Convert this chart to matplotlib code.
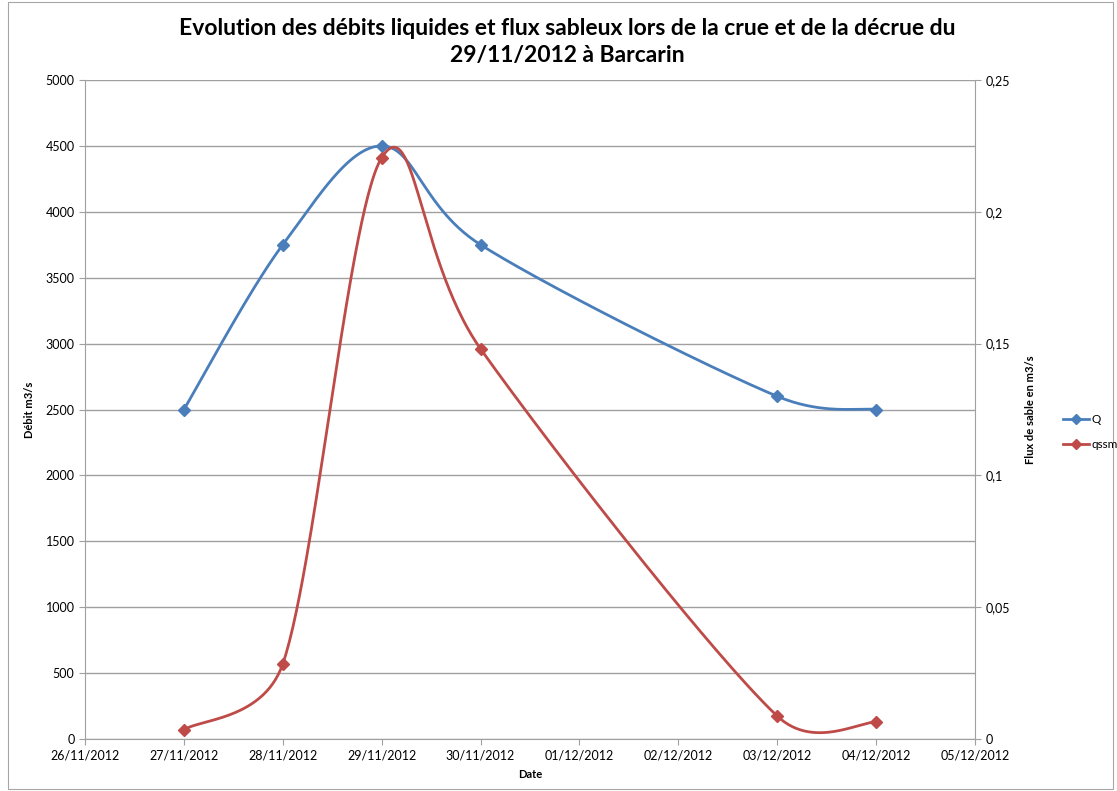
import datetime
import numpy as np
import matplotlib
matplotlib.use('Agg')
import matplotlib.pyplot as plt
import matplotlib.dates as mdates
from matplotlib.ticker import FuncFormatter, MultipleLocator

plt.rcParams['font.family'] = ['Lato', 'DejaVu Sans']

# données
dates = ['27/11/2012', '28/11/2012', '29/11/2012', '30/11/2012', '03/12/2012', '04/12/2012']
debit_q = [2500, 3750, 4500, 3750, 2600, 2500]
flux_qssm = [0.0035, 0.0285, 0.2205, 0.148, 0.0087, 0.0064]

BLUE = '#4A7EBB'
RED = '#BE4B48'
GRID = '#A0A0A0'


def smooth_excel(axe, x, y, n=60):
    """courbe lissée façon Excel : Bezier en pixels, bras 1/6 plafonnés à la demi-corde"""
    pts = axe.transData.transform(np.column_stack([x, y]))
    out = []
    for i in range(len(pts) - 1):
        p0 = pts[i - 1] if i > 0 else pts[i]
        p1 = pts[i]
        p2 = pts[i + 1]
        p3 = pts[i + 2] if i + 2 < len(pts) else pts[i + 1]
        d12 = np.hypot(*(p2 - p1))
        d02 = np.hypot(*(p2 - p0))
        d13 = np.hypot(*(p3 - p1))
        f1 = 1 / 6.0 if d02 / 6.0 < d12 / 2.0 else d12 / (2.0 * d02)
        f2 = 1 / 6.0 if d13 / 6.0 < d12 / 2.0 else d12 / (2.0 * d13)
        c1 = p1 + f1 * (p2 - p0)
        c2 = p2 - f2 * (p3 - p1)
        t = np.linspace(0, 1, n)[:, None]
        seg = ((1 - t) ** 3) * p1 + 3 * ((1 - t) ** 2) * t * c1 + 3 * (1 - t) * t ** 2 * c2 + t ** 3 * p2
        out.append(seg if i == 0 else seg[1:])
    out = axe.transData.inverted().transform(np.vstack(out))
    return out[:, 0], out[:, 1]


x_dates = [datetime.datetime.strptime(d, '%d/%m/%Y') for d in dates]
x_num = mdates.date2num(x_dates)

fig = plt.figure(figsize=(11.17, 7.91), dpi=100)
ax = fig.add_axes([0.0761, 0.0657, 0.7968, 0.8332])
ax2 = ax.twinx()

x_min = mdates.date2num(datetime.datetime(2012, 11, 26))
x_max = mdates.date2num(datetime.datetime(2012, 12, 5))
ax.set_xlim(x_min, x_max)
ax.set_ylim(0, 5000)
ax2.set_ylim(0, 0.25)

# cadre du graphique
fig.add_artist(plt.Rectangle((8 / 1117, 2 / 791), 1105 / 1117, 787 / 791, transform=fig.transFigure,
                             fill=False, edgecolor='#A6A6A6', linewidth=0.8))

sx, sy = smooth_excel(ax, x_num, debit_q)
ax.plot(sx, sy, color=BLUE, linewidth=2)
ax.plot(x_num, debit_q, linestyle='none', marker='D', markersize=6, color=BLUE)

sx2, sy2 = smooth_excel(ax2, x_num, flux_qssm)
ax2.plot(sx2, sy2, color=RED, linewidth=2)
ax2.plot(x_num, flux_qssm, linestyle='none', marker='D', markersize=6, color=RED)

ax.xaxis.set_major_locator(mdates.DayLocator())
ax.xaxis.set_major_formatter(mdates.DateFormatter('%d/%m/%Y'))
ax.yaxis.set_major_locator(MultipleLocator(500))
ax2.yaxis.set_major_locator(MultipleLocator(0.05))
ax2.yaxis.set_major_formatter(FuncFormatter(lambda v, p: ('%g' % round(v, 4)).replace('.', ',')))

ax.grid(axis='y', color=GRID, linewidth=1)
ax.set_axisbelow(True)

for a in (ax, ax2):
    a.spines['top'].set_visible(False)
    for side in ('left', 'bottom', 'right'):
        a.spines[side].set_color(GRID)
    a.tick_params(colors=GRID, labelcolor='black', labelsize=9, length=4, direction='out')
ax.spines['right'].set_visible(False)
ax2.spines['left'].set_visible(False)
ax2.spines['bottom'].set_visible(False)

ax.set_xlabel('Date', fontsize=8, fontweight='bold')
ax.xaxis.set_label_coords(0.5, -0.045)
ax.set_ylabel('Débit m3/s', fontsize=8, fontweight='bold')
ax.yaxis.set_label_coords(-0.056, 0.5)
ax2.set_ylabel('Flux de sable en m3/s', fontsize=8, fontweight='bold')
ax2.yaxis.set_label_coords(1.056, 0.5)

fig.suptitle('Evolution des débits liquides et flux sableux lors de la crue et de la décrue du\n29/11/2012 à Barcarin',
             fontsize=16.5, fontweight='bold', x=0.508, y=0.977, linespacing=1.35)

h1, = ax.plot([], [], color=BLUE, linewidth=2, marker='D', markersize=5, label='Q')
h2, = ax.plot([], [], color=RED, linewidth=2, marker='D', markersize=5, label='qssm')
fig.legend(handles=[h1, h2], loc='center left', bbox_to_anchor=(0.942, 0.454), frameon=False,
           fontsize=8.5, handlelength=2.2, handletextpad=0.2, labelspacing=1.2)

fig.savefig('out.png', dpi=100)
